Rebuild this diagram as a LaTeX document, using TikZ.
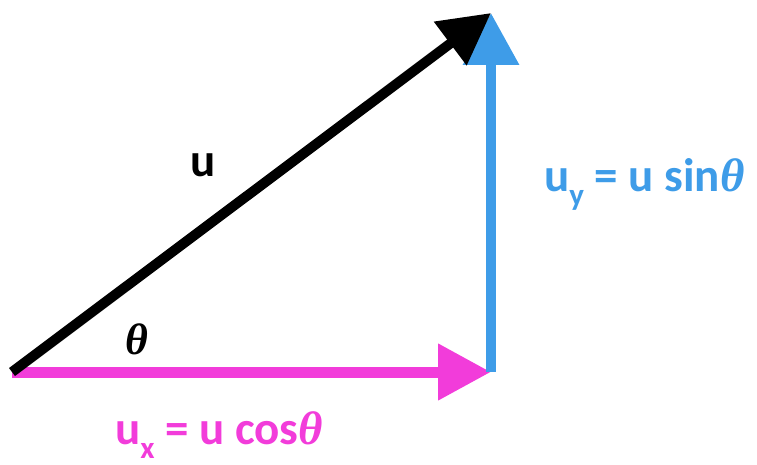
\documentclass[tikz,border=0pt]{standalone}
\usepackage{fontspec}
\setmainfont{Carlito}
\newfontfamily\thetafont{Liberation Serif}
\usepackage{xcolor}
\usetikzlibrary{arrows.meta,positioning}
\definecolor{vecmag}{RGB}{242,60,218}
\definecolor{vecblue}{RGB}{62,156,232}
\tikzset{
  vec/.style={line width=10pt, -{Triangle[length=51pt, width=52pt]}},
  compx/.style={draw=vecmag, line width=11pt, -{Triangle[length=53pt, width=54pt, fill=vecmag]}},
  compy/.style={draw=vecblue, line width=10pt, -{Triangle[length=52pt, width=54pt, fill=vecblue]}},
  lbl/.style={font=\fontsize{47}{50}\bfseries\selectfont, inner sep=0pt},
}
\newcommand{\thsym}{{\thetafont\bfseries\itshape θ}}
\newcommand{\lowidx}[1]{\raisebox{-0.3em}{\fontsize{31}{33}\selectfont #1}}

\begin{document}
\begin{tikzpicture}[x=1pt, y=-1pt]
  \useasboundingbox (0,0) rectangle (757,465);
  \coordinate (orig) at (12,372);
  \coordinate (corner) at (491,372);
  \coordinate (tip) at (491,13);
  \draw[compx] (orig) -- (corner);
  \draw[compy] (corner) -- (tip);
  \draw[vec] (orig) -- (tip);
  \node[lbl] (lblu) at (203,165) {u};
  \node[lbl, font=\fontsize{44}{46}\selectfont] (ang) at (137,339) {\thsym};
  \node[lbl, text=vecblue, anchor=base west] (lbly) at (544,191) {u\lowidx{y} = u sin\thsym};
  \node[lbl, text=vecmag, anchor=base west] (lblx) at (115,444) {u\lowidx{x} = u cos\thsym};
\end{tikzpicture}
\end{document}
